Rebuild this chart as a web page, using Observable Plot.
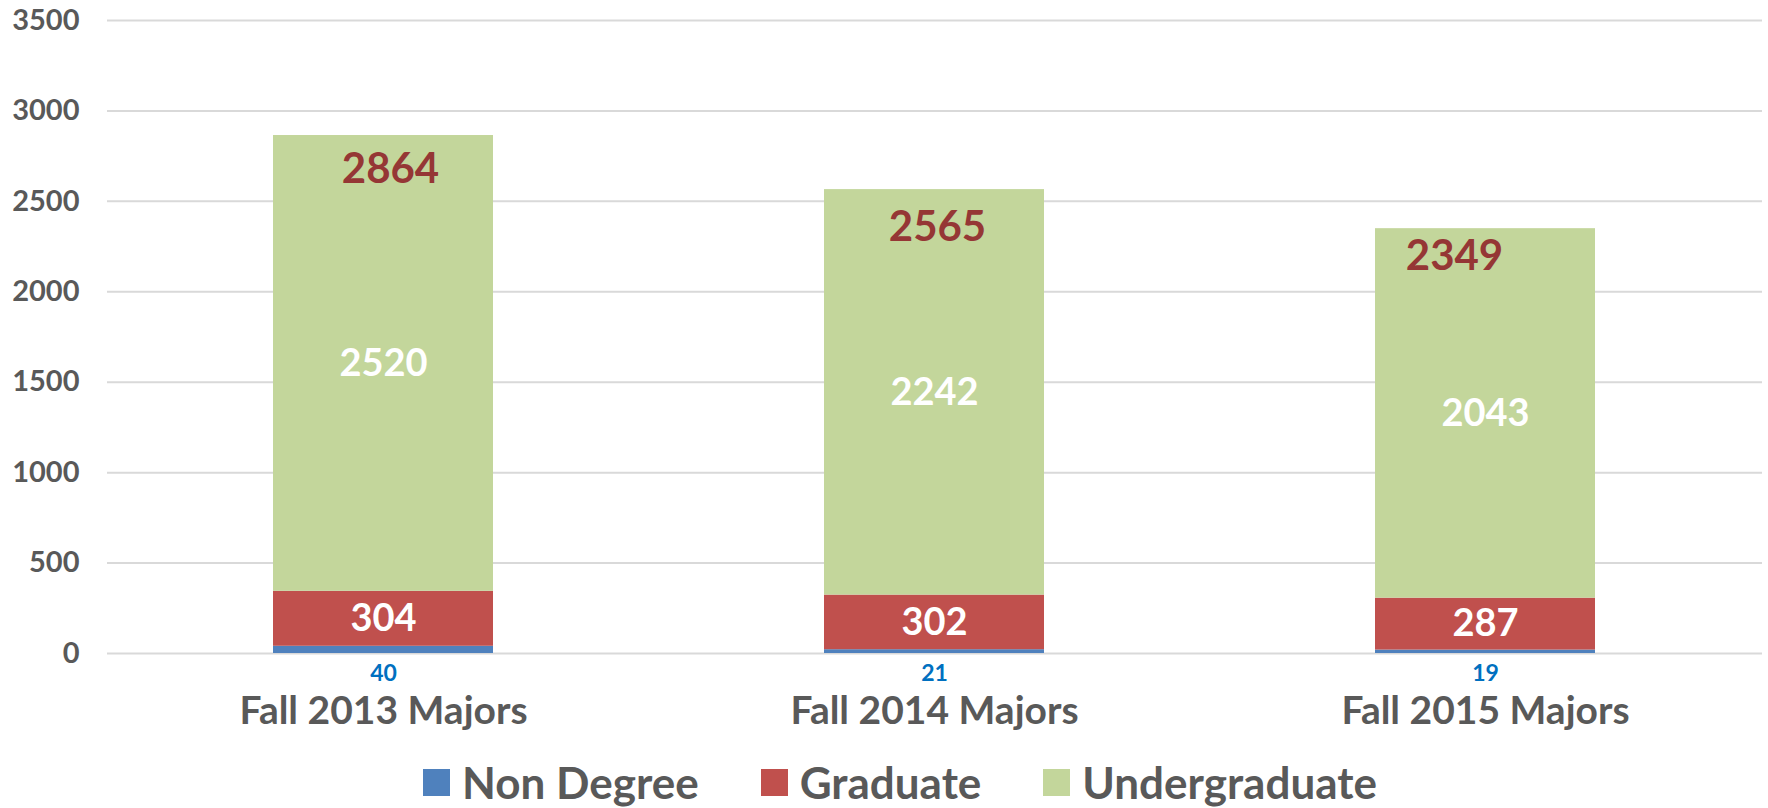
<!DOCTYPE html>
<html>
<head>
<meta charset="utf-8">
<script src="https://cdn.jsdelivr.net/npm/d3@7"></script>
<script src="https://cdn.jsdelivr.net/npm/@observablehq/plot@0.6"></script>
<style>
  html, body { margin: 0; padding: 0; background: #fff; }
  body { width: 1768px; height: 808px; overflow: hidden; position: relative; font-family: Lato, "Open Sans", sans-serif; }
  #chart { position: absolute; left: 0; top: 0; }
  #legend { position: absolute; left: 0; top: 759px; width: 1768px; height: 46px; display: flex; justify-content: center; align-items: center; padding-left: 32px; box-sizing: border-box; }
  .item { display: flex; align-items: center; margin: 0 31px; font-weight: 700; font-size: 44px; line-height: 46px; color: #595959; }
  .sw { width: 27px; height: 27px; margin-right: 12px; }
</style>
</head>
<body>
<div id="chart"></div>
<div id="legend"></div>
<script>
const categories = ["Fall 2013 Majors", "Fall 2014 Majors", "Fall 2015 Majors"];
const seriesNames = ["Non Degree", "Graduate", "Undergraduate"];
const nonDegree = [40, 21, 19];
const graduate = [304, 302, 287];
const undergraduate = [2520, 2242, 2043];
const totals = [2864, 2565, 2349];
const yTicks = [0, 500, 1000, 1500, 2000, 2500, 3000, 3500];
const colors = ["#4F81BD", "#C0504D", "#C3D69B"];
// manual nudges of the total labels, as placed in the original chart
const totalNudgeX = [7, 3, -31];
const totalNudgeY = [34, 38, 28];

const seriesValues = [nonDegree, graduate, undergraduate];
const rows = [];
categories.forEach((c, i) => {
  seriesNames.forEach((s, j) => rows.push({cat: c, series: s, value: seriesValues[j][i]}));
});
const ndRows = categories.map((c, i) => ({cat: c, value: nonDegree[i]}));

const font = "Lato, 'Open Sans', sans-serif";
const totalMarks = categories.map((c, i) =>
  Plot.text([{cat: c, total: totals[i]}], {
    x: "cat", y: "total", text: d => String(d.total),
    dx: totalNudgeX[i], dy: totalNudgeY[i],
    fill: "#953735", fontSize: 42, fontWeight: 700
  })
);

const chart = Plot.plot({
  width: 1768,
  height: 752,
  marginLeft: 107,
  marginRight: 6,
  marginTop: 20,
  marginBottom: 99,
  style: {fontFamily: font, fontWeight: 700, background: "#fff"},
  x: {domain: categories, paddingInner: 0.6, paddingOuter: 0.3, label: null},
  y: {domain: [0, 3500], label: null},
  color: {domain: seriesNames, range: colors},
  marks: [
    Plot.ruleY(yTicks, {stroke: "#D9D9D9", strokeWidth: 2}),
    Plot.barY(rows, {x: "cat", y: "value", fill: "series", order: seriesNames}),
    Plot.text(rows, Plot.stackY({
      x: "cat", y: "value", z: "series", order: seriesNames,
      text: d => d.series === "Non Degree" ? "" : String(d.value),
      fill: "#fff", fontSize: 38, fontWeight: 700
    })),
    ...totalMarks,
    Plot.text(ndRows, {x: "cat", y: () => 0, text: d => String(d.value), dy: 20, fill: "#0070C0", fontSize: 23, fontWeight: 700}),
    Plot.axisY({ticks: yTicks, tickSize: 0, tickPadding: 28, fontSize: 29, fill: "#595959", tickFormat: d => String(d)}),
    Plot.axisX({tickSize: 0, tickPadding: 43, fontSize: 39, fill: "#595959", label: null})
  ]
});
document.getElementById("chart").appendChild(chart);

const legend = document.getElementById("legend");
seriesNames.forEach((s, j) => {
  const item = document.createElement("div");
  item.className = "item";
  const sw = document.createElement("div");
  sw.className = "sw";
  sw.style.background = colors[j];
  const t = document.createElement("span");
  t.textContent = s;
  item.appendChild(sw);
  item.appendChild(t);
  legend.appendChild(item);
});
</script>
</body>
</html>
